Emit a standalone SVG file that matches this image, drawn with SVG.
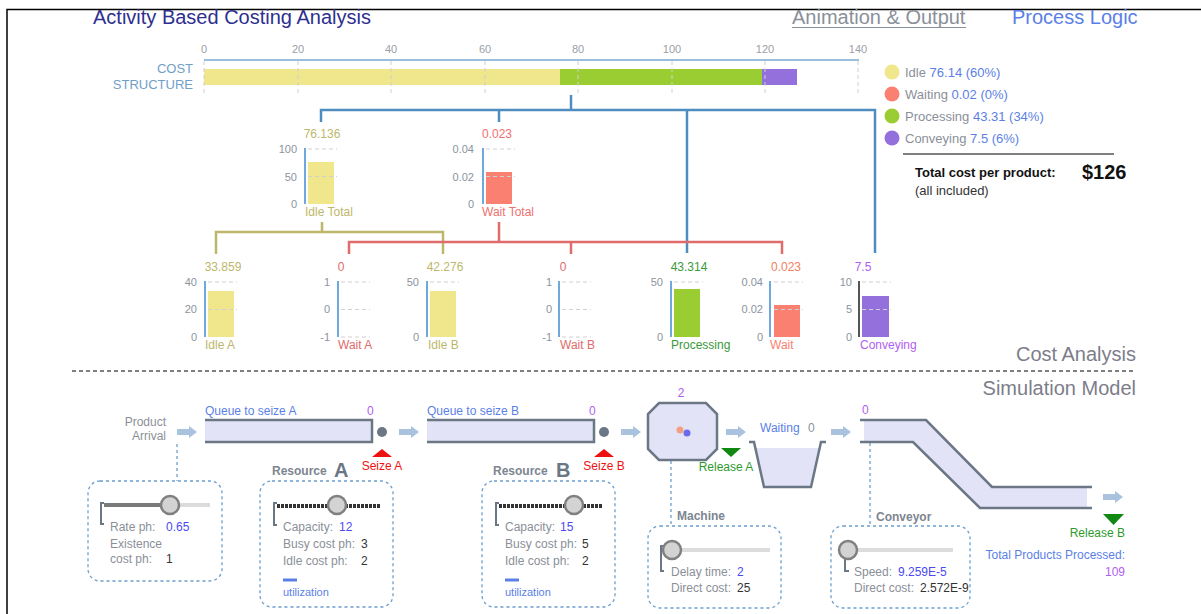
<svg xmlns="http://www.w3.org/2000/svg" width="1201" height="614" viewBox="0 0 1201 614">
<defs>
<style>
text{font-family:"Liberation Sans",Arial,sans-serif}
.t18{font-size:20px}
.ax{font-size:11px;fill:#9aa0a8}
.al{font-size:11px;fill:#8a94a0;text-anchor:end}
.grid{stroke:#d0d0d0;stroke-width:1;stroke-dasharray:4,3}
.yax{stroke:#6fa8dc;stroke-width:2}
.val{font-size:12px;text-anchor:middle}
.lbl{font-size:12px}
.leg{font-size:13px;fill:#8a8f9a}
.legv{fill:#5b7fe6}
.wire{fill:none;stroke-width:2.5}
.dash{fill:none;stroke:#6a9fcf;stroke-width:1.3;stroke-dasharray:3,3}
.box{fill:none;stroke:#6a9fcf;stroke-width:1.3;stroke-dasharray:3,3}
.g{font-size:12px;fill:#8a8f98}
.k{font-size:12px;fill:#333}
.b{font-size:12px;fill:#4a4af0}
.blue{fill:#5b7fe6}
.purp{fill:#b060f0}
.shape{fill:#e3e3f7;stroke:none}
.edge{fill:none;stroke:#6b7785;stroke-width:2.5}
.knob{fill:#d3d3d3;stroke:#808080;stroke-width:2.5}
.brk{fill:none;stroke:#6b7785;stroke-width:2}
.bold{font-size:12px;font-weight:bold;fill:#7d8590}
</style>
<symbol id="arrow" overflow="visible">
<path d="M0,-3 H12 V-6 L20,0 L12,6 V3 H0 Z" fill="#a9c2de"/>
</symbol>
<clipPath id="convclip"><rect x="831" y="526" width="138" height="82"/></clipPath>
</defs>
<rect width="1201" height="614" fill="#ffffff"/>
<path d="M7,614 V9.5 H1201" fill="none" stroke="#000" stroke-width="1.5"/>

<g id="header">
<text x="93" y="24" class="t18" fill="#2e2f8f">Activity Based Costing Analysis</text>
<text x="792" y="24" class="t18" fill="#8a9099">Animation &amp; Output</text>
<line x1="792" y1="27.5" x2="966" y2="27.5" stroke="#8a9099" stroke-width="1.2"/>
<text x="1012" y="24" class="t18" fill="#5b7fe6">Process Logic</text>
</g>

<g id="cost-structure">
<text x="193" y="73" font-size="13" fill="#6fa0c8" text-anchor="end">COST</text>
<text x="193" y="89" font-size="13" fill="#6fa0c8" text-anchor="end">STRUCTURE</text>
<g class="ax" text-anchor="middle">
<text x="204" y="53">0</text><text x="298" y="53">20</text><text x="391" y="53">40</text><text x="485" y="53">60</text>
<text x="578" y="53">80</text><text x="672" y="53">100</text><text x="765" y="53">120</text><text x="858" y="53">140</text>
</g>
<rect x="204" y="69" width="356" height="16" fill="#f0e68c"/>
<rect x="560" y="69" width="202" height="16" fill="#9acd32"/>
<rect x="762" y="69" width="35" height="16" fill="#9370db"/>
<g class="grid">
<line x1="204" y1="61" x2="204" y2="93"/><line x1="298" y1="61" x2="298" y2="93"/><line x1="391" y1="61" x2="391" y2="93"/><line x1="485" y1="61" x2="485" y2="93"/>
<line x1="578" y1="61" x2="578" y2="93"/><line x1="672" y1="61" x2="672" y2="93"/><line x1="765" y1="61" x2="765" y2="93"/><line x1="858" y1="61" x2="858" y2="93"/>
</g>
<line x1="204" y1="60" x2="859" y2="60" stroke="#7aa8d4" stroke-width="1.5"/>
</g>

<g id="legend">
<circle cx="892" cy="72" r="7.5" fill="#f0e68c"/>
<circle cx="892" cy="94" r="7.5" fill="#fa8072"/>
<circle cx="892" cy="116" r="7.5" fill="#9acd32"/>
<circle cx="892" cy="138" r="7.5" fill="#9370db"/>
<text x="905" y="77" class="leg">Idle <tspan class="legv">76.14 (60%)</tspan></text>
<text x="905" y="99" class="leg">Waiting <tspan class="legv">0.02 (0%)</tspan></text>
<text x="905" y="121" class="leg">Processing <tspan class="legv">43.31 (34%)</tspan></text>
<text x="905" y="143" class="leg">Conveying <tspan class="legv">7.5 (6%)</tspan></text>
<line x1="903" y1="154" x2="1114" y2="154" stroke="#555" stroke-width="1.5"/>
<text x="915" y="177" font-size="13" font-weight="bold" fill="#111">Total cost per product:</text>
<text x="1082" y="179" font-size="20" font-weight="bold" fill="#111">$126</text>
<text x="915" y="195" font-size="13" fill="#333">(all included)</text>
</g>

<g id="connectors">
<path class="wire" stroke="#4f8cc0" d="M571,95 V110 M321,122 V110 H875 V253 M499,110 V122 M687,110 V253"/>
<path class="wire" stroke="#bdb76b" d="M322,222 V232 M216,254 V232 H443 V254"/>
<path class="wire" stroke="#e06b6b" d="M499,222 V242 M349,254 V242 H782 V254 M571,242 V254"/>
</g>

<g id="chart-idle-total">
<text x="322" y="138" class="val" fill="#bdb76b">76.136</text>
<rect x="308" y="162" width="26" height="42" fill="#f0e68c"/>
<line class="grid" x1="308" y1="149" x2="337" y2="149"/><line class="grid" x1="308" y1="176.5" x2="337" y2="176.5"/>
<line class="yax" x1="305" y1="148" x2="305" y2="204"/>
<text x="297" y="153" class="al">100</text><text x="297" y="181" class="al">50</text><text x="297" y="208" class="al">0</text>
<text x="305" y="216" class="lbl" fill="#bdb76b">Idle Total</text>
</g>
<g id="chart-wait-total">
<text x="497" y="138" class="val" fill="#f07070">0.023</text>
<rect x="486" y="172" width="26" height="32" fill="#fa8072"/>
<line class="grid" x1="486" y1="149" x2="515" y2="149"/><line class="grid" x1="486" y1="176.5" x2="515" y2="176.5"/>
<line class="yax" x1="483" y1="148" x2="483" y2="204"/>
<text x="474" y="153" class="al">0.04</text><text x="474" y="181" class="al">0.02</text><text x="474" y="208" class="al">0</text>
<text x="482" y="216" class="lbl" fill="#f07070">Wait Total</text>
</g>

<g id="chart-idle-a">
<text x="223" y="271" class="val" fill="#bdb76b">33.859</text>
<rect x="208" y="291" width="26" height="46" fill="#f0e68c"/>
<line class="grid" x1="208" y1="282" x2="237" y2="282"/><line class="grid" x1="208" y1="309.5" x2="237" y2="309.5"/>
<line class="yax" x1="205" y1="281" x2="205" y2="337"/>
<text x="197" y="286" class="al">40</text><text x="197" y="313" class="al">20</text><text x="197" y="341" class="al">0</text>
<text x="205" y="349" class="lbl" fill="#bdb76b">Idle A</text>
</g>
<g id="chart-wait-a">
<text x="341" y="271" class="val" fill="#e06b6b">0</text>
<line class="grid" x1="341" y1="282" x2="370" y2="282"/><line class="grid" x1="341" y1="309.5" x2="370" y2="309.5"/><line class="grid" x1="341" y1="337" x2="370" y2="337"/>
<line class="yax" x1="338" y1="281" x2="338" y2="337"/>
<text x="330" y="286" class="al">1</text><text x="330" y="313" class="al">0</text><text x="330" y="341" class="al">-1</text>
<text x="338" y="349" class="lbl" fill="#e06b6b">Wait A</text>
</g>
<g id="chart-idle-b">
<text x="445" y="271" class="val" fill="#bdb76b">42.276</text>
<rect x="430" y="291" width="26" height="46" fill="#f0e68c"/>
<line class="grid" x1="430" y1="282" x2="459" y2="282"/>
<line class="yax" x1="427" y1="281" x2="427" y2="337"/>
<text x="419" y="286" class="al">50</text><text x="419" y="341" class="al">0</text>
<text x="428" y="349" class="lbl" fill="#bdb76b">Idle B</text>
</g>
<g id="chart-wait-b">
<text x="563" y="271" class="val" fill="#e06b6b">0</text>
<line class="grid" x1="562" y1="282" x2="591" y2="282"/><line class="grid" x1="562" y1="309.5" x2="591" y2="309.5"/><line class="grid" x1="562" y1="337" x2="591" y2="337"/>
<line class="yax" x1="559" y1="281" x2="559" y2="337"/>
<text x="552" y="286" class="al">1</text><text x="552" y="313" class="al">0</text><text x="552" y="341" class="al">-1</text>
<text x="560" y="349" class="lbl" fill="#e06b6b">Wait B</text>
</g>
<g id="chart-processing">
<text x="689" y="271" class="val" fill="#3a9a3a">43.314</text>
<rect x="674" y="289" width="26" height="48" fill="#9acd32"/>
<line class="grid" x1="674" y1="282" x2="703" y2="282"/>
<line class="yax" x1="671" y1="281" x2="671" y2="337"/>
<text x="663" y="286" class="al">50</text><text x="663" y="341" class="al">0</text>
<text x="671" y="349" class="lbl" fill="#3a9a3a">Processing</text>
</g>
<g id="chart-wait">
<text x="786" y="271" class="val" fill="#f08060">0.023</text>
<rect x="774" y="305" width="26" height="32" fill="#fa8072"/>
<line class="grid" x1="774" y1="282" x2="803" y2="282"/><line class="grid" x1="774" y1="309.5" x2="803" y2="309.5"/>
<line class="yax" x1="770" y1="281" x2="770" y2="337"/>
<text x="763" y="286" class="al">0.04</text><text x="763" y="313" class="al">0.02</text><text x="763" y="341" class="al">0</text>
<text x="770" y="349" class="lbl" fill="#fa8072">Wait</text>
</g>
<g id="chart-conveying">
<text x="863" y="271" class="val" fill="#b060f0">7.5</text>
<rect x="862" y="296" width="27" height="41" fill="#9370db"/>
<line class="grid" x1="862" y1="282" x2="891" y2="282"/><line class="grid" x1="862" y1="309.5" x2="891" y2="309.5"/>
<line x1="859" y1="281" x2="859" y2="337" stroke="#555" stroke-width="2"/>
<text x="852" y="286" class="al">10</text><text x="852" y="313" class="al">5</text><text x="852" y="341" class="al">0</text>
<text x="860" y="349" class="lbl" fill="#b060f0">Conveying</text>
</g>

<g id="section-divider">
<text x="1136" y="361" class="t18" fill="#7d7d8a" text-anchor="end">Cost Analysis</text>
<line x1="72" y1="371" x2="1136" y2="371" stroke="#555" stroke-width="1.5" stroke-dasharray="4,3"/>
<text x="1136" y="395" class="t18" fill="#7d7d8a" text-anchor="end">Simulation Model</text>
</g>

<g id="sim-connectors">
<use href="#arrow" x="177" y="432"/>
<use href="#arrow" x="399" y="432"/>
<use href="#arrow" x="621" y="432"/>
<use href="#arrow" x="726" y="432"/>
<use href="#arrow" x="831" y="432"/>
<use href="#arrow" x="1103" y="497"/>
<path class="dash" d="M177,444 V481"/>
<path class="dash" d="M671,461 V526"/>
<path class="dash" d="M870,443 V526"/>
</g>

<g id="product-arrival">
<text x="166" y="426" class="g" text-anchor="end">Product</text>
<text x="166" y="440" class="g" text-anchor="end">Arrival</text>
<rect class="box" x="88" y="481" width="134" height="100" rx="12"/>
<line x1="104" y1="505" x2="170" y2="505" stroke="#7a7a7a" stroke-width="4"/>
<line x1="170" y1="505" x2="210" y2="505" stroke="#dcdcdc" stroke-width="4"/>
<path class="brk" d="M104,503 H101 V524 H104"/>
<circle class="knob" cx="170" cy="505" r="9"/>
<text x="110" y="531" class="g">Rate ph:</text><text x="166" y="531" class="b">0.65</text>
<text x="110" y="548" class="g">Existence</text>
<text x="110" y="563" class="g">cost ph:</text><text x="166" y="563" class="k">1</text>
</g>

<g id="queue-a">
<text x="205" y="415" class="lbl blue">Queue to seize A</text>
<text x="367" y="415" class="lbl purp">0</text>
<rect class="shape" x="205" y="420" width="167" height="22"/>
<path class="edge" d="M205,420 H372 V442 H205"/>
</g>
<g id="seize-a">
<circle cx="382" cy="432" r="5" fill="#6b7785"/>
<path d="M382,449 L392,457 H372 Z" fill="#ee1111"/>
<text x="382" y="470" class="lbl" fill="#ee1111" text-anchor="middle">Seize A</text>
</g>
<g id="resource-a">
<text x="272" y="475" class="bold">Resource</text>
<text x="334" y="477" font-size="20" font-weight="bold" fill="#6b7785">A</text>
<rect class="box" x="260" y="481" width="133" height="126" rx="12"/>
<line x1="277" y1="506" x2="381" y2="506" stroke="#333" stroke-width="4" stroke-dasharray="3,1"/>
<path class="brk" d="M277,503 H274 V525 H277"/>
<circle class="knob" cx="337" cy="505" r="9"/>
<text x="283" y="531" class="g">Capacity:</text><text x="339" y="531" class="b">12</text>
<text x="283" y="548" class="g">Busy cost ph:</text><text x="361" y="548" class="k">3</text>
<text x="283" y="565" class="g">Idle cost ph:</text><text x="361" y="565" class="k">2</text>
<line x1="283" y1="580" x2="297" y2="580" stroke="#5b7fe6" stroke-width="3"/>
<text x="283" y="596" font-size="11" class="blue">utilization</text>
</g>

<g id="queue-b">
<text x="427" y="415" class="lbl blue">Queue to seize B</text>
<text x="589" y="415" class="lbl purp">0</text>
<rect class="shape" x="427" y="420" width="167" height="22"/>
<path class="edge" d="M427,420 H594 V442 H427"/>
</g>
<g id="seize-b">
<circle cx="604" cy="432" r="5" fill="#6b7785"/>
<path d="M604,449 L614,457 H594 Z" fill="#ee1111"/>
<text x="604" y="470" class="lbl" fill="#ee1111" text-anchor="middle">Seize B</text>
</g>
<g id="resource-b">
<text x="493" y="475" class="bold">Resource</text>
<text x="556" y="477" font-size="20" font-weight="bold" fill="#6b7785">B</text>
<rect class="box" x="482" y="481" width="133" height="126" rx="12"/>
<line x1="499" y1="506" x2="603" y2="506" stroke="#333" stroke-width="4" stroke-dasharray="3,1"/>
<path class="brk" d="M499,503 H496 V525 H499"/>
<circle class="knob" cx="574" cy="505" r="9"/>
<text x="505" y="531" class="g">Capacity:</text><text x="560" y="531" class="b">15</text>
<text x="505" y="548" class="g">Busy cost ph:</text><text x="582" y="548" class="k">5</text>
<text x="505" y="565" class="g">Idle cost ph:</text><text x="582" y="565" class="k">2</text>
<line x1="505" y1="580" x2="519" y2="580" stroke="#5b7fe6" stroke-width="3"/>
<text x="505" y="596" font-size="11" class="blue">utilization</text>
</g>

<g id="machine">
<text x="681" y="397" class="lbl purp" text-anchor="middle">2</text>
<path d="M659,403 H706 L717,414 V449 L706,460 H659 L648,449 V414 Z" fill="#e3e3f7" stroke="#6b7785" stroke-width="2.5"/>
<circle cx="680" cy="430" r="3.5" fill="#f4a080"/>
<circle cx="687" cy="433" r="3.5" fill="#6b6bea"/>
<text x="677" y="520" class="bold">Machine</text>
<rect class="box" x="648" y="526" width="133" height="82" rx="12"/>
<line x1="672" y1="550" x2="770" y2="550" stroke="#dcdcdc" stroke-width="4"/>
<path class="brk" d="M664,546 H661 V571 H664"/>
<circle class="knob" cx="672" cy="550" r="9"/>
<text x="671" y="576" class="g">Delay time:</text><text x="737" y="576" class="b">2</text>
<text x="671" y="592" class="g">Direct cost:</text><text x="737" y="592" class="k">25</text>
</g>
<g id="release-a">
<path d="M721,448 H741 L731,457 Z" fill="#118811"/>
<text x="726" y="471" class="lbl" fill="#2e9a2e" text-anchor="middle">Release A</text>
</g>

<g id="waiting">
<text x="760" y="432" class="lbl blue">Waiting</text>
<text x="808" y="432" class="lbl" fill="#8a8f98">0</text>
<path d="M756,448 H820 L811,487 H764 Z" fill="#e3e3f7"/>
<path class="edge" d="M749,442 H754 L764,487 H811 L821,442 H826"/>
</g>

<g id="conveyor">
<text x="862" y="414" class="lbl purp">0</text>
<path d="M864,420 H926 L992,487 H1087 V508 H980 L913,442 H864 Z" fill="#e3e3f7"/>
<path class="edge" d="M860,420 H926 L992,487 H1092"/>
<path class="edge" d="M860,442 H913 L980,508 H1092"/>
<text x="876" y="521" class="bold">Conveyor</text>
<rect class="box" x="831" y="526" width="139" height="82" rx="12"/>
<line x1="848" y1="550" x2="953" y2="550" stroke="#dcdcdc" stroke-width="4"/>
<path class="brk" d="M845,555 V571 H849"/>
<circle class="knob" cx="848" cy="550" r="9"/>
<text x="854" y="576" class="g">Speed:</text><text x="898" y="576" class="b">9.259E-5</text>
<text x="854" y="592" class="g">Direct cost:</text>
<text x="920" y="592" class="k" clip-path="url(#convclip)">2.572E-9</text>
</g>

<g id="release-b">
<path d="M1103,514 H1124 L1113.5,525 Z" fill="#118811"/>
<text x="1125" y="537" class="lbl" fill="#2e9a2e" text-anchor="end">Release B</text>
<text x="1125" y="559" font-size="12" class="blue" text-anchor="end">Total Products Processed:</text>
<text x="1125" y="576" font-size="12" class="purp" text-anchor="end">109</text>
</g>
</svg>
